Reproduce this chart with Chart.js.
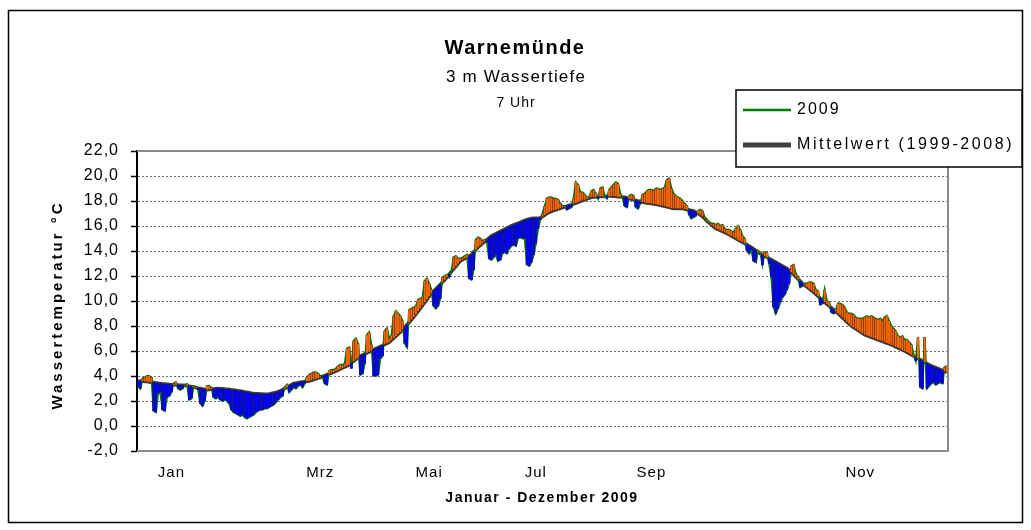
<!DOCTYPE html>
<html>
<head>
<meta charset="utf-8">
<script src="https://cdn.jsdelivr.net/npm/chart.js@4.4.1/dist/chart.umd.min.js"></script>
<style>
  body { margin: 0; background: #fff; }
</style>
</head>
<body>
<canvas id="chart" width="1031" height="530"></canvas>
<script>
// Wassertemperatur 2009, 7 Uhr, Tageswerte (Jan 1 .. Dez 31)
var temp2009 = [
  3.2, 3.0, 3.8, 3.9, 4.0, 4.0, 3.9, 1.2, 1.1, 2.6,
  2.7, 1.3, 1.2, 2.3, 2.4, 2.7, 3.4, 3.5, 3.0, 2.9,
  3.0, 3.3, 3.35, 2.1, 2.2, 3.2, 3.15, 2.9, 1.8, 1.6,
  2.0, 3.2, 3.2, 3.05, 2.3, 2.2, 2.3, 2.1, 2.0, 2.1,
  2.0, 1.8, 1.3, 1.1, 1.0, 0.9, 0.8, 0.9, 0.7, 0.6,
  0.7, 0.8, 0.9, 1.1, 1.2, 1.3, 1.3, 1.4, 1.4, 1.5,
  1.6, 1.7, 1.9, 2.1, 2.3, 2.4, 3.1, 3.3, 2.7, 2.9,
  3.1, 3.0, 3.2, 3.3, 3.1, 3.4, 3.9, 4.1, 4.2, 4.3,
  4.3, 4.2, 4.0, 3.9, 3.4, 3.3, 4.4, 4.5, 4.5, 4.6,
  4.8, 4.9, 4.9, 5.0, 6.2, 6.3, 4.6, 6.8, 7.0, 6.6,
  4.1, 4.2, 5.0, 7.3, 7.5, 6.5, 4.0, 4.0, 4.1, 5.4,
  5.6, 7.6, 7.8, 7.0, 7.2, 8.8, 9.2, 9.0, 8.8, 8.4,
  6.6, 6.3, 9.3, 9.4, 9.5, 9.6, 10.1, 10.2, 10.3, 11.6,
  11.8, 11.4, 10.9, 9.6, 9.4, 9.6, 10.2, 11.9, 12.0, 12.1,
  11.9, 12.3, 13.5, 13.6, 13.4, 13.4, 13.5, 13.6, 13.7, 11.8,
  11.7, 12.5, 14.9, 15.1, 15.0, 14.8, 14.9, 14.7, 13.4, 13.3,
  13.5, 13.7, 13.2, 13.3, 13.8, 13.9, 13.8, 14.2, 14.4, 14.5,
  14.4, 15.0, 15.1, 15.0, 15.0, 12.9, 12.8, 13.1, 13.7, 14.6,
  15.8, 16.5, 17.0, 17.6, 18.2, 18.3, 18.3, 18.2, 18.2, 18.1,
  17.8, 17.6, 17.6, 17.3, 17.4, 17.5, 18.2, 19.5, 19.3, 18.7,
  18.7, 18.5, 18.3, 18.3, 18.8, 18.9, 18.6, 18.2, 19.0, 19.1,
  18.4, 18.2, 18.9, 19.1, 19.3, 19.5, 19.4, 18.6, 18.3, 17.6,
  17.5, 18.4, 18.5, 18.4, 17.5, 17.4, 17.8, 18.5, 18.6, 18.8,
  18.9, 18.9, 18.8, 19.0, 19.0, 18.9, 19.0, 19.1, 19.7, 19.8,
  19.0, 18.6, 18.4, 18.3, 18.2, 18.0, 17.8, 17.6, 16.9, 16.6,
  16.7, 16.8, 17.2, 17.3, 17.2, 16.7, 16.5, 16.3, 16.2, 16.2,
  16.1, 16.2, 16.0, 16.1, 15.8, 15.7, 15.7, 15.6, 15.5, 15.8,
  16.0, 15.7, 15.2, 15.0, 14.0, 13.8, 14.1, 13.2, 13.1, 14.0,
  13.9, 12.9, 13.9, 13.9, 13.0, 11.9, 9.5, 9.0, 9.4, 9.9,
  10.3, 10.5, 10.9, 11.4, 12.8, 12.9, 12.2, 11.9, 11.1, 11.2,
  11.4, 11.4, 11.5, 11.5, 11.4, 10.9, 10.8, 9.7, 9.8, 10.9,
  10.0, 9.9, 9.1, 9.0, 9.3, 9.8, 9.8, 9.7, 9.5, 9.1,
  9.0, 9.0, 8.9, 8.7, 8.6, 8.6, 8.6, 8.7, 8.8, 8.7,
  8.8, 8.7, 8.6, 8.5, 8.6, 8.4, 8.7, 8.8, 8.4, 8.0,
  7.8, 7.6, 7.2, 7.1, 7.2, 6.9, 6.9, 6.7, 6.5, 5.7,
  5.2, 7.1, 3.1, 3.0, 7.1, 3.0, 3.2, 3.4, 3.5, 3.3,
  3.4, 3.5, 3.4, 4.7, 4.8
];

// Mittelwert 1999-2008
var mittelwert = [
  3.6, 3.6, 3.58, 3.56, 3.55, 3.52, 3.5, 3.48, 3.45, 3.42,
  3.4, 3.38, 3.37, 3.35, 3.33, 3.31, 3.3, 3.3, 3.29, 3.27,
  3.26, 3.25, 3.22, 3.18, 3.14, 3.1, 3.07, 3.03, 3.0, 2.96,
  2.93, 2.9, 2.92, 2.95, 2.97, 2.99, 3.0, 2.99, 2.98, 2.96,
  2.95, 2.93, 2.9, 2.88, 2.85, 2.82, 2.8, 2.77, 2.73, 2.7,
  2.67, 2.63, 2.6, 2.59, 2.58, 2.57, 2.56, 2.55, 2.55, 2.56,
  2.6, 2.64, 2.68, 2.74, 2.8, 2.9, 3.0, 3.1, 3.2, 3.3,
  3.4, 3.43, 3.46, 3.5, 3.53, 3.56, 3.58, 3.6, 3.66, 3.72,
  3.78, 3.84, 3.9, 3.97, 4.03, 4.1, 4.17, 4.23, 4.3, 4.39,
  4.47, 4.56, 4.64, 4.73, 4.81, 4.9, 5.04, 5.18, 5.32, 5.46,
  5.6, 5.68, 5.77, 5.85, 5.93, 6.02, 6.1, 6.19, 6.27, 6.36,
  6.44, 6.53, 6.61, 6.7, 6.86, 7.02, 7.18, 7.34, 7.5, 7.7,
  7.9, 8.1, 8.3, 8.5, 8.7, 8.94, 9.17, 9.41, 9.65, 9.89,
  10.13, 10.36, 10.6, 10.78, 10.97, 11.15, 11.33, 11.52, 11.7, 11.91,
  12.13, 12.34, 12.56, 12.77, 12.99, 13.2, 13.3, 13.4, 13.5, 13.6,
  13.7, 13.9, 14.1, 14.3, 14.45, 14.6, 14.75, 14.9, 15.05, 15.2,
  15.29, 15.38, 15.47, 15.56, 15.65, 15.74, 15.83, 15.92, 16.01, 16.08,
  16.15, 16.22, 16.3, 16.37, 16.44, 16.5, 16.55, 16.6, 16.62, 16.62,
  16.62, 16.65, 16.75, 16.87, 17.0, 17.1, 17.17, 17.23, 17.3, 17.36,
  17.42, 17.48, 17.53, 17.59, 17.65, 17.7, 17.77, 17.83, 17.9, 17.97,
  18.03, 18.1, 18.17, 18.23, 18.3, 18.31, 18.33, 18.34, 18.35, 18.36,
  18.38, 18.39, 18.4, 18.39, 18.37, 18.36, 18.34, 18.33, 18.31, 18.3,
  18.25, 18.2, 18.15, 18.1, 18.05, 18.0, 17.95, 17.9, 17.87, 17.84,
  17.81, 17.79, 17.76, 17.73, 17.7, 17.66, 17.61, 17.57, 17.53, 17.49,
  17.44, 17.4, 17.4, 17.4, 17.4, 17.4, 17.36, 17.32, 17.28, 17.24,
  17.2, 17.1, 17.0, 16.9, 16.75, 16.6, 16.4, 16.25, 16.1, 15.95,
  15.8, 15.72, 15.64, 15.56, 15.48, 15.4, 15.3, 15.2, 15.1, 15.0,
  14.9, 14.8, 14.7, 14.6, 14.5, 14.4, 14.28, 14.16, 14.04, 13.92,
  13.8, 13.7, 13.6, 13.5, 13.4, 13.3, 13.2, 13.1, 13.0, 12.9,
  12.8, 12.7, 12.6, 12.45, 12.3, 12.12, 11.94, 11.76, 11.58, 11.4,
  11.26, 11.12, 10.98, 10.84, 10.7, 10.54, 10.38, 10.22, 10.06, 9.9,
  9.75, 9.6, 9.45, 9.3, 9.15, 9.0, 8.83, 8.67, 8.5, 8.33,
  8.17, 8.0, 7.88, 7.77, 7.65, 7.53, 7.42, 7.3, 7.23, 7.17,
  7.1, 7.03, 6.97, 6.9, 6.83, 6.77, 6.7, 6.63, 6.57, 6.5,
  6.42, 6.33, 6.25, 6.17, 6.08, 6.0, 5.9, 5.8, 5.7, 5.6,
  5.5, 5.4, 5.3, 5.2, 5.1, 5.0, 4.9, 4.8, 4.73, 4.66,
  4.59, 4.51, 4.44, 4.37, 4.3
];

// Monatsbeschriftung (Tag im Jahr, an dem Excel das Label zeigt)
var monatNamen = ['Jan', 'Mrz', 'Mai', 'Jul', 'Sep', 'Nov'];
var monatTage = [15, 82, 131, 179, 231, 325];

var tage = [];
for (let i = 0; i < temp2009.length; i++) {
    tage.push(i + 1);
}

var FONT = "'Liberation Sans', Arial, sans-serif";
Chart.defaults.font.family = FONT;
Chart.defaults.color = '#000';

// Up/Down-Balken zwischen Mittelwert und 2009
var balken = [];
var balkenFarben = [];
for (let i = 0; i < tage.length; i++) {
    balken.push([mittelwert[i], temp2009[i]]);
    balkenFarben.push(temp2009[i] >= mittelwert[i] ? '#ff6600' : '#0000ff');
}

function schreibe(ctx, txt, x, y, font, sp) {
    ctx.font = font;
    ctx.letterSpacing = sp;
    ctx.fillText(txt, x, y);
    ctx.letterSpacing = '0px';
}

var deko = {
    id: 'deko',
    beforeDraw(chart) {
        chart.ctx.letterSpacing = '1px';
    },
    beforeDatasetsDraw(chart) {
        const ctx = chart.ctx;
        const a = chart.chartArea;
        ctx.save();
        ctx.strokeStyle = '#8c8c8c';
        ctx.lineWidth = 2;
        ctx.beginPath();
        ctx.moveTo(a.left, a.top);
        ctx.lineTo(a.right, a.top);
        ctx.lineTo(a.right, a.bottom);
        ctx.lineTo(a.left, a.bottom);
        ctx.stroke();
        ctx.restore();
    },
    afterDraw(chart) {
        const ctx = chart.ctx;
        ctx.save();
        ctx.letterSpacing = '0px';
        // Rahmen
        ctx.strokeStyle = '#000';
        ctx.lineWidth = 1.5;
        ctx.strokeRect(8.5, 10.5, 1014, 512);

        // Titel
        ctx.fillStyle = '#000';
        ctx.textAlign = 'center';
        ctx.textBaseline = 'middle';
        schreibe(ctx, 'Warnemünde', 515, 48, 'bold 20px ' + FONT, '1.5px');
        schreibe(ctx, '3 m Wassertiefe', 516, 77, '17px ' + FONT, '1.2px');
        schreibe(ctx, '7 Uhr', 516, 103, '14px ' + FONT, '1px');

        // Achsentitel
        schreibe(ctx, 'Januar - Dezember 2009', 542, 498, 'bold 14px ' + FONT, '1.5px');
        ctx.save();
        ctx.translate(58, 305);
        ctx.rotate(-Math.PI / 2);
        schreibe(ctx, 'Wassertemperatur °C', 0, 0, 'bold 15px ' + FONT, '3px');
        ctx.restore();

        // Legende
        ctx.fillStyle = '#fff';
        ctx.fillRect(736, 90, 286, 77);
        ctx.strokeStyle = '#000';
        ctx.lineWidth = 1.5;
        ctx.strokeRect(736, 90, 286, 77);
        ctx.lineCap = 'butt';
        ctx.strokeStyle = '#008000';
        ctx.lineWidth = 2.5;
        ctx.beginPath();
        ctx.moveTo(743, 110);
        ctx.lineTo(791, 110);
        ctx.stroke();
        ctx.strokeStyle = '#404040';
        ctx.lineWidth = 5;
        ctx.beginPath();
        ctx.moveTo(743, 145);
        ctx.lineTo(791, 145);
        ctx.stroke();
        ctx.fillStyle = '#000';
        ctx.textAlign = 'left';
        schreibe(ctx, '2009', 797, 110, '16px ' + FONT, '2px');
        schreibe(ctx, 'Mittelwert (1999-2008)', 797, 145, '16px ' + FONT, '2.6px');
        ctx.restore();
    }
};

var config = {
    data: {
        labels: tage,
        datasets: [
            {
                type: 'bar',
                label: 'Abweichung',
                data: balken,
                backgroundColor: balkenFarben,
                borderColor: '#1e1e1e',
                borderWidth: 0.4,
                borderSkipped: false,
                barPercentage: 1,
                categoryPercentage: 1,
                order: 1
            },
            {
                type: 'line',
                label: '2009',
                data: temp2009,
                borderColor: '#008000',
                borderWidth: 2,
                pointRadius: 0,
                tension: 0,
                order: 2
            },
            {
                type: 'line',
                label: 'Mittelwert (1999-2008)',
                data: mittelwert,
                borderColor: '#3c3c3c',
                borderWidth: 3.5,
                pointRadius: 0,
                tension: 0,
                order: 3
            }
        ]
    },
    options: {
        responsive: false,
        animation: false,
        layout: { padding: { left: 10, right: 83, top: 151, bottom: 10 } },
        plugins: {
            legend: { display: false },
            tooltip: { enabled: false },
            title: { display: false }
        },
        scales: {
            x: {
                type: 'category',
                offset: true,
                grid: { display: false, drawTicks: false },
                border: { display: false },
                ticks: {
                    autoSkip: false,
                    maxRotation: 0,
                    padding: 13,
                    font: { size: 15 },
                    callback: function(v, i) { return monatNamen[i]; }
                },
                afterBuildTicks: function(s) {
                    s.ticks = monatTage.map(function(d) { return { value: d }; });
                },
                afterFit: function(s) { s.height = 69; }
            },
            y: {
                min: -2,
                max: 22,
                ticks: {
                    stepSize: 2,
                    padding: 12,
                    font: { size: 16 },
                    callback: function(v) { return v.toFixed(1).replace('.', ','); }
                },
                grid: {
                    color: function(c) {
                        if (c.tick && (c.tick.value === 22 || c.tick.value === -2)) return 'rgba(0,0,0,0)';
                        return '#707070';
                    },
                    lineWidth: 1,
                    tickColor: '#000',
                    tickLength: 6,
                    tickWidth: 1.5,
                    tickBorderDash: []
                },
                border: { display: true, color: '#000', width: 2, dash: [2, 2] },
                afterFit: function(s) { s.width = 127; }
            }
        }
    },
    plugins: [deko]
};

var myChart = new Chart(document.getElementById('chart'), config);
</script>
</body>
</html>
